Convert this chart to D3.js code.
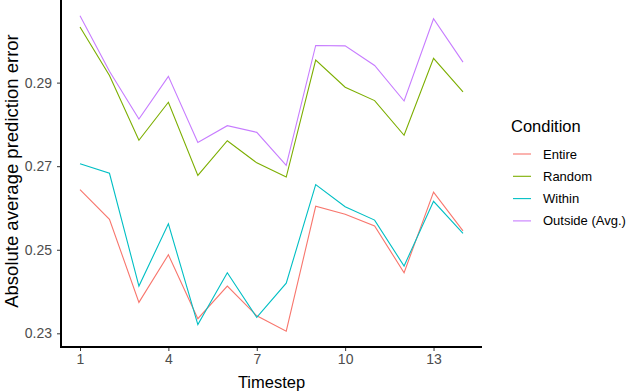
<!DOCTYPE html>
<html><head><meta charset="utf-8">
<script src="https://cdn.jsdelivr.net/npm/d3@7"></script>
<style>body{margin:0;background:#fff;} svg{display:block;font-family:"Liberation Sans",Arial,sans-serif;}</style>
</head><body><svg id="c" width="640" height="392"></svg>
<script>
const timesteps = [1,2,3,4,5,6,7,8,9,10,11,12,13,14];
const conditions = ["Entire","Random","Within","Outside (Avg.)"];
const colors = ["#F8766D","#7CAE00","#00BFC4","#C77CFF"];
const entire  = [0.2644,0.2573,0.2374,0.2488,0.2335,0.2413,0.2342,0.2305,0.2604,0.2585,0.2557,0.2445,0.2638,0.2545];
const random  = [0.3033,0.2917,0.2762,0.2853,0.2678,0.2761,0.2708,0.2674,0.2954,0.2889,0.2857,0.2774,0.2958,0.2878];
const within  = [0.2706,0.2683,0.2413,0.2562,0.2321,0.2445,0.2338,0.2420,0.2656,0.2603,0.2571,0.2461,0.2616,0.2539];
const outside = [0.3060,0.2927,0.2813,0.2915,0.2757,0.2797,0.2781,0.2702,0.2989,0.2988,0.2941,0.2856,0.3053,0.2949];
const xTicks = [1,4,7,10,13];
const yTicks = [0.23,0.25,0.27,0.29];
const series = [entire, random, within, outside];

const svg = d3.select("#c");
const L = 61, R = 482, T = 0, B = 347;
const x = d3.scaleLinear().domain([1,14]).range([80,463]);
const allV = series.flat();
const yMin = d3.min(allV), yMax = d3.max(allV), pad = (yMax-yMin)*0.05;
const y = d3.scaleLinear().domain([yMin-pad, yMax+pad]).range([B, T]);

const line = d3.line().x((d,i)=>x(timesteps[i])).y(d=>y(d));
series.forEach((s,k)=>{
  svg.append("path").datum(s).attr("d",line).attr("fill","none")
    .attr("stroke",colors[k]).attr("stroke-width",1.1);
});

const xa = svg.append("g").attr("transform",`translate(0,${B})`)
  .call(d3.axisBottom(x).tickValues(xTicks).tickSize(4).tickPadding(3).tickFormat(d3.format("d")));
xa.select(".domain").remove();
const ya = svg.append("g").attr("transform",`translate(${L},0)`)
  .call(d3.axisLeft(y).tickValues(yTicks).tickSize(4).tickPadding(5).tickFormat(d3.format(".2f")));
ya.select(".domain").remove();
[xa,ya].forEach(a=>{
  a.selectAll(".tick line").attr("stroke","#333").attr("stroke-width",1);
  a.selectAll(".tick text").attr("fill","#4d4d4d").style("font-size","14px").style("font-family","Liberation Sans, Arial, sans-serif");
});
svg.append("line").attr("x1",L).attr("x2",L).attr("y1",T).attr("y2",B+1).attr("stroke","#000").attr("stroke-width",2);
svg.append("line").attr("x1",L-1).attr("x2",R).attr("y1",B).attr("y2",B).attr("stroke","#000").attr("stroke-width",2);

svg.append("text").attr("x",(L+R)/2).attr("y",388).attr("text-anchor","middle")
  .style("font-size","16.5px").attr("fill","#000").text("Timestep");
svg.append("text").attr("transform",`translate(17.5,171) rotate(-90)`).attr("text-anchor","middle")
  .style("font-size","18.5px").attr("fill","#000").text("Absolute average prediction error");

const lg = svg.append("g");
lg.append("text").attr("x",511).attr("y",132).style("font-size","16.5px").attr("fill","#000").text("Condition");
conditions.forEach((c,i)=>{
  const cy = 154 + i*22.3;
  lg.append("line").attr("x1",513).attr("x2",531).attr("y1",cy).attr("y2",cy).attr("stroke",colors[i]).attr("stroke-width",1.1);
  lg.append("text").attr("x",543).attr("y",cy+4.5).style("font-size","13px").attr("fill","#000").text(c);
});
</script></body></html>
